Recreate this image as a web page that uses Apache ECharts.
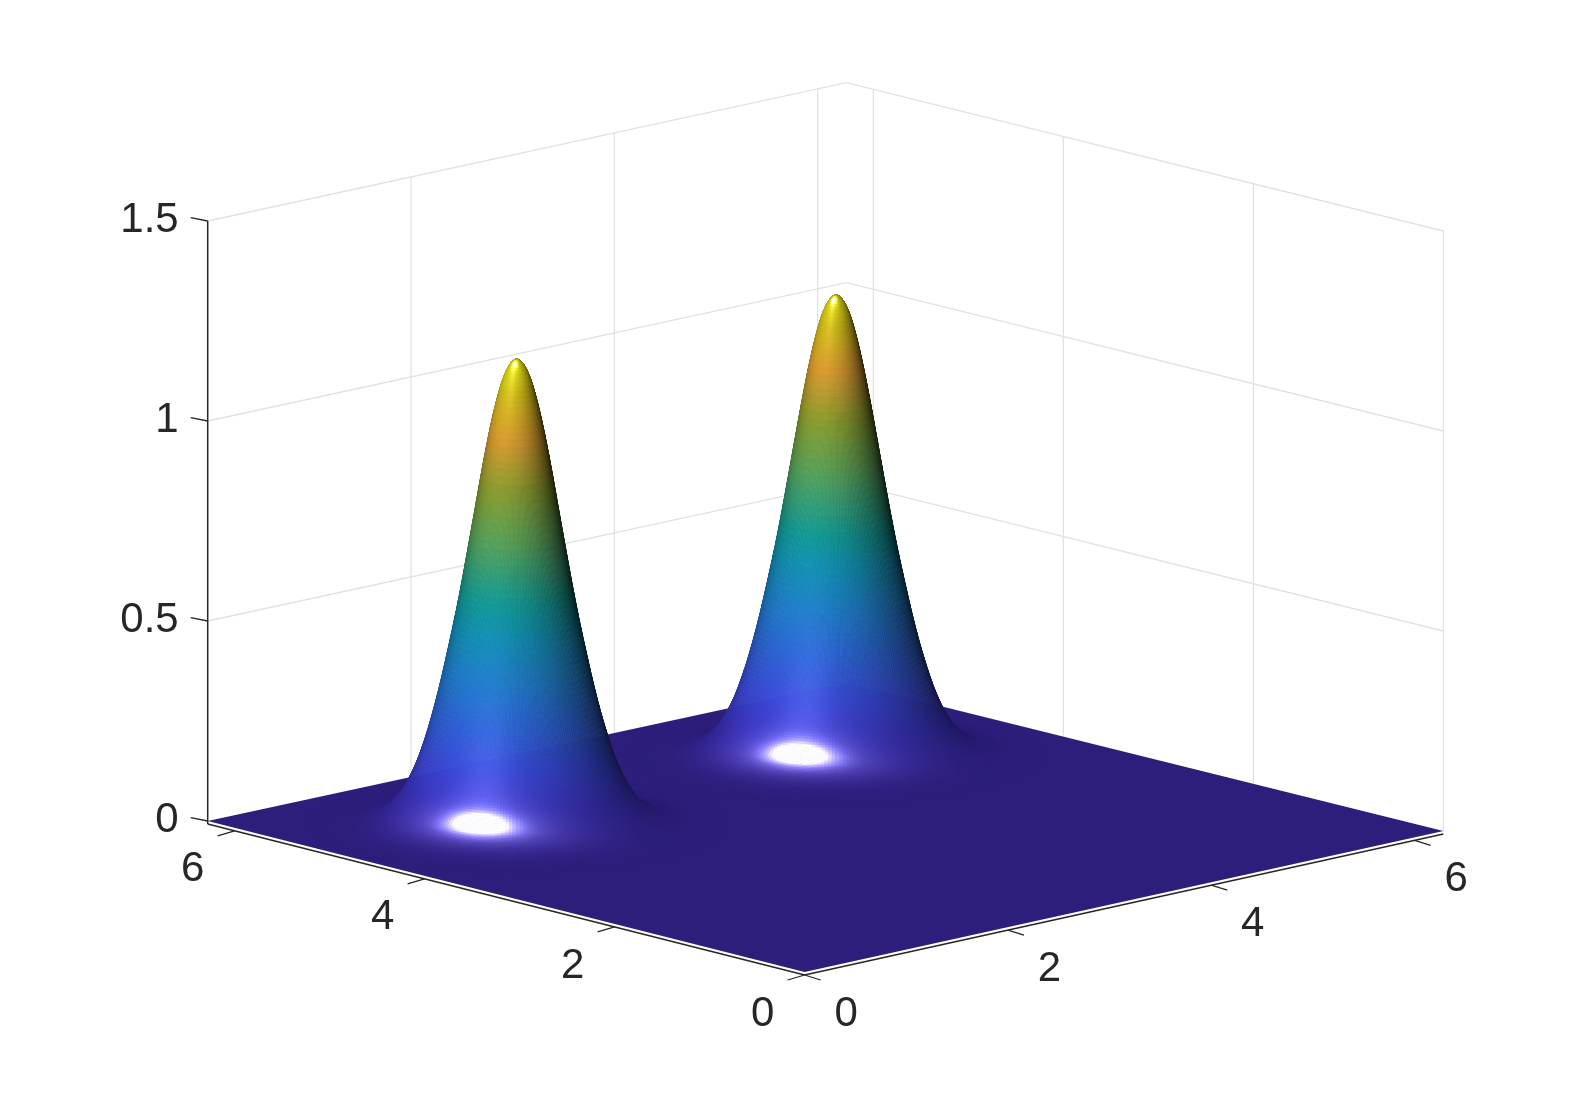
<!DOCTYPE html>
<html>
<head>
<meta charset="utf-8">
<style>html,body{margin:0;padding:0;background:#fff}#chart{width:1596px;height:1097px;filter:blur(0.5px)}</style>
<script src="https://cdn.jsdelivr.net/npm/echarts@6/dist/echarts.min.js"></script>
</head>
<body>
<div id="chart"></div>
<script>
// ---- values ----
const xTicks = [0, 2, 4, 6];
const yTicks = [0, 2, 4, 6];
const zTicks = [0, 0.5, 1, 1.5];
const xTickLabels = ['0', '2', '4', '6'];
const yTickLabels = ['0', '2', '4', '6'];
const zTickLabels = ['0', '0.5', '1', '1.5'];
const peakCentreX = [4.71, 1.57];
const peakCentreY = [4.71, 4.71];
const radiusStep = 0.05;
const heightsBack = [1.149,1.136,1.100,1.040,0.963,0.874,0.778,0.681,0.587,0.500,0.421,0.346,0.279,0.220,0.169,0.127,0.0940,0.0681,0.0484,0.0338,0.0230,0.0154,0.0102,0.0065,0.0041,0.0026,0.0016,0.0009,0.0005,0.0002,0];
const heightsFront = [1.162,1.149,1.112,1.052,0.975,0.885,0.787,0.690,0.595,0.507,0.427,0.351,0.283,0.223,0.171,0.129,0.0952,0.0690,0.0490,0.0342,0.0233,0.0156,0.0103,0.0066,0.0042,0.0026,0.0016,0.0009,0.0005,0.0002,0];
const colourHeights = [0, 0.05, 0.1, 0.18, 0.28, 0.38, 0.5, 0.58, 0.72, 0.85, 0.97, 1.08, 1.16];
const colourRed   = [65, 66, 62, 56, 42, 30, 15, 15, 78, 130, 205, 200, 225];
const colourGreen = [43, 50, 56, 70, 92, 115, 135, 145, 152, 148, 145, 180, 225];
const colourBlue  = [181, 195, 200, 210, 205, 195, 170, 140, 85, 42, 45, 25, 20];

// ---- oblique view of the box ----
const XMAX = 6.2832, YMAX = 6.2832, ZMAX = 1.5;
const FX = 804.6, FY = 972, AXX = (1443.4 - FX) / XMAX, AXY = (831 - FY) / XMAX,
      AYX = (207.7 - FX) / YMAX, AYY = (821 - FY) / YMAX, AZ = 400, FORESHORTEN = 2.7;
function project(x, y, z) {
  return [FX + x * AXX + y * AYX, FY + x * AXY + y * AYY - z * AZ + FORESHORTEN * (x / XMAX) * (y / YMAX)];
}
const AXIS_DROP = 3;
const DEPTH = [-AYX, AXX, (-AYX * AXY + AXX * AYY) / AZ]; // direction along the line of sight

function norm(v) { const m = Math.hypot(v[0], v[1], v[2]); return [v[0] / m, v[1] / m, v[2] / m]; }
const LIGHT = norm([-0.85, -0.27, 0.55]);
const HALF = norm([-0.38, -0.21, 1]);
const KA = 0.25, KD = 0.8, KS = 1.6, SHINE = 230, KS_WIDE = 0.28, SHINE_WIDE = 45, STREAK = 0.07, STREAK_POWER = 30;
const AZ_LEN = Math.hypot(HALF[0], HALF[1]);

function baseColour(z) {
  let i = 0;
  while (i < colourHeights.length - 2 && z > colourHeights[i + 1]) i++;
  const t = Math.min(1, Math.max(0, (z - colourHeights[i]) / (colourHeights[i + 1] - colourHeights[i])));
  return [colourRed[i] + t * (colourRed[i + 1] - colourRed[i]),
          colourGreen[i] + t * (colourGreen[i + 1] - colourGreen[i]),
          colourBlue[i] + t * (colourBlue[i + 1] - colourBlue[i])];
}
function shade(z, n) {
  const b = baseColour(z);
  const d = Math.max(0, n[0] * LIGHT[0] + n[1] * LIGHT[1] + n[2] * LIGHT[2]);
  const h = Math.max(0, n[0] * HALF[0] + n[1] * HALF[1] + n[2] * HALF[2]);
  const horiz = Math.hypot(n[0], n[1]);
  let lobe = 0;
  if (horiz > 1e-4) {
    const ca = Math.max(0, (n[0] * HALF[0] + n[1] * HALF[1]) / (horiz * AZ_LEN));
    const slope = horiz / n[2];
    const g = Math.min(1, slope / 0.3) * Math.exp(-Math.pow((slope - 0.9) / 0.5, 2));
    lobe = STREAK * Math.pow(ca, STREAK_POWER) * g;
  }
  const I = KA + KD * d, S = (KS * Math.pow(h, SHINE) + KS_WIDE * Math.pow(h, SHINE_WIDE) + lobe) * 255;
  const c = v => Math.min(255, Math.round(v * I + S));
  return 'rgb(' + c(b[0]) + ',' + c(b[1]) + ',' + c(b[2]) + ')';
}
// smooth tessellation of a read radial profile, for drawing only
function ringsFrom(heights) {
  const out = [], N = heights.length - 1;
  const m = k => (k <= 0 || k >= N) ? 0 : (heights[k + 1] - heights[k - 1]) / 2;
  for (let k = 0; k < N; k++) {
    const subs = k < 24 ? 5 : 1;
    for (let s = 0; s < subs; s++) {
      const t = s / subs, t2 = t * t, t3 = t2 * t;
      const z = (2 * t3 - 3 * t2 + 1) * heights[k] + (t3 - 2 * t2 + t) * m(k) + (-2 * t3 + 3 * t2) * heights[k + 1] + (t3 - t2) * m(k + 1);
      const dz = (6 * t2 - 6 * t) * heights[k] + (3 * t2 - 4 * t + 1) * m(k) + (-6 * t2 + 6 * t) * heights[k + 1] + (3 * t2 - 2 * t) * m(k + 1);
      out.push({ r: (k + t) * radiusStep, z: z, s: dz / radiusStep });
    }
  }
  out.push({ r: N * radiusStep, z: heights[N], s: 0 });
  return out;
}
const SEGMENTS = 216;
function buildPeak(cx, cy, heights) {
  const rings = ringsFrom(heights), quads = [];
  for (let j = 0; j < rings.length - 1; j++) {
    const a = rings[j], b = rings[j + 1], slope = (a.s + b.s) / 2, z = (a.z + b.z) / 2, r = (a.r + b.r) / 2;
    for (let i = 0; i < SEGMENTS; i++) {
      const t0 = i / SEGMENTS * 2 * Math.PI, t1 = (i + 1) / SEGMENTS * 2 * Math.PI, tm = (t0 + t1) / 2;
      const cm = Math.cos(tm), sm = Math.sin(tm);
      const n = norm([-slope * cm, -slope * sm, 1]);
      if (n[0] * DEPTH[0] + n[1] * DEPTH[1] + n[2] * DEPTH[2] > 0) continue;
      const P = (q, t) => [cx + q.r * Math.cos(t), cy + q.r * Math.sin(t), q.z];
      quads.push({
        pts: [P(a, t0), P(a, t1), P(b, t1), P(b, t0)],
        depth: DEPTH[0] * (cx + r * cm) + DEPTH[1] * (cy + r * sm) + DEPTH[2] * z,
        fill: shade(z, n)
      });
    }
  }
  quads.sort((p, q) => q.depth - p.depth);
  return quads;
}
const peakHeights = [heightsBack, heightsFront];
const peakMeshes = peakCentreX.map((cx, i) => buildPeak(cx, peakCentreY[i], peakHeights[i]));

const GRID = '#e2e2e2', INK = '#262626', FONT = '"Liberation Sans", Arial, sans-serif';
function lineEl(api, a, b, colour, width) {
  const p = api.coord(a), q = api.coord(b);
  return { type: 'line', shape: { x1: p[0], y1: p[1], x2: q[0], y2: q[1] }, style: { stroke: colour, lineWidth: width, lineCap: 'butt' } };
}
function textEl(api, at, text, align) {
  const p = api.coord(at);
  return { type: 'text', x: p[0], y: p[1], style: { text: text, fontSize: 42, fontFamily: FONT, fill: INK, align: align, verticalAlign: 'middle' } };
}
const shift = (p, dx, dy) => [p[0] + dx, p[1] + dy];

const option = {
  animation: false,
  backgroundColor: '#fff',
  grid: { left: 0, right: 0, top: 0, bottom: 0 },
  xAxis: { type: 'value', min: 0, max: 1596, show: false },
  yAxis: { type: 'value', min: 0, max: 1097, inverse: true, show: false },
  tooltip: { show: false },
  series: [
    { // back walls
      type: 'custom', silent: true, clip: false, z: 1, data: [[0, 0]],
      renderItem(params, api) {
        const c = [];
        zTicks.forEach(z => {
          if (z === 0) return;
          c.push(lineEl(api, project(0, YMAX, z), project(XMAX, YMAX, z), GRID, 1.3));
          c.push(lineEl(api, project(XMAX, YMAX, z), project(XMAX, 0, z), GRID, 1.3));
        });
        xTicks.forEach(x => { if (x) c.push(lineEl(api, project(x, YMAX, 0), project(x, YMAX, ZMAX), GRID, 1.3)); });
        yTicks.forEach(y => { if (y) c.push(lineEl(api, project(XMAX, y, 0), project(XMAX, y, ZMAX), GRID, 1.3)); });
        c.push(lineEl(api, project(XMAX, 0, 0), project(XMAX, 0, ZMAX), GRID, 1.3));
        return { type: 'group', children: c };
      }
    },
    { // floor of the surface
      type: 'custom', silent: true, clip: false, z: 2, data: [[0, 0]],
      renderItem(params, api) {
        const pts = [project(0, 0, 0), project(XMAX, 0, 0), project(XMAX, YMAX, 0), project(0, YMAX, 0)].map(p => api.coord(p));
        const fill = shade(0, [0, 0, 1]);
        return { type: 'polygon', shape: { points: pts }, style: { fill: fill, stroke: null } };
      }
    },
    { // the two peaks, far one first
      type: 'custom', silent: true, clip: false, z: 3, progressive: 0, data: [[0, 0], [1, 0]],
      renderItem(params, api) {
        const mesh = peakMeshes[api.value(0)];
        return {
          type: 'group',
          children: mesh.map(q => ({
            type: 'polygon',
            shape: { points: q.pts.map(v => api.coord(project(v[0], v[1], v[2]))) },
            style: { fill: q.fill, stroke: q.fill, lineWidth: 0.7 }
          }))
        };
      }
    },
    { // axes, ticks, labels
      type: 'custom', silent: true, clip: false, z: 4, data: [[0, 0]],
      renderItem(params, api) {
        const c = [];
        const drop = p => shift(p, 0, AXIS_DROP);
        c.push(lineEl(api, drop(project(0, 0, 0)), drop(project(XMAX, 0, 0)), INK, 1.5));
        c.push(lineEl(api, drop(project(0, 0, 0)), drop(project(0, YMAX, 0)), INK, 1.5));
        c.push(lineEl(api, drop(project(0, YMAX, 0)), project(0, YMAX, ZMAX), INK, 1.5));
        xTicks.forEach((x, i) => {
          const p = drop(project(x, 0, 0));
          c.push(lineEl(api, p, shift(p, 16, 5), INK, 1.3));
          c.push(textEl(api, shift(p, 41.5, 39), xTickLabels[i], 'center'));
        });
        yTicks.forEach((y, i) => {
          const p = drop(project(0, y, 0));
          c.push(lineEl(api, p, shift(p, -17, 5), INK, 1.3));
          c.push(textEl(api, shift(p, -42, 39), yTickLabels[i], 'center'));
        });
        zTicks.forEach((z, i) => {
          const p = project(0, YMAX, z);
          c.push(lineEl(api, p, shift(p, -17, -3.4), INK, 1.3));
          c.push(textEl(api, shift(p, -29, -0.5), zTickLabels[i], 'right'));
        });
        return { type: 'group', children: c };
      }
    }
  ]
};
const chart = echarts.init(document.getElementById('chart'), null, { renderer: 'canvas' });
chart.setOption(option);
</script>
</body>
</html>
